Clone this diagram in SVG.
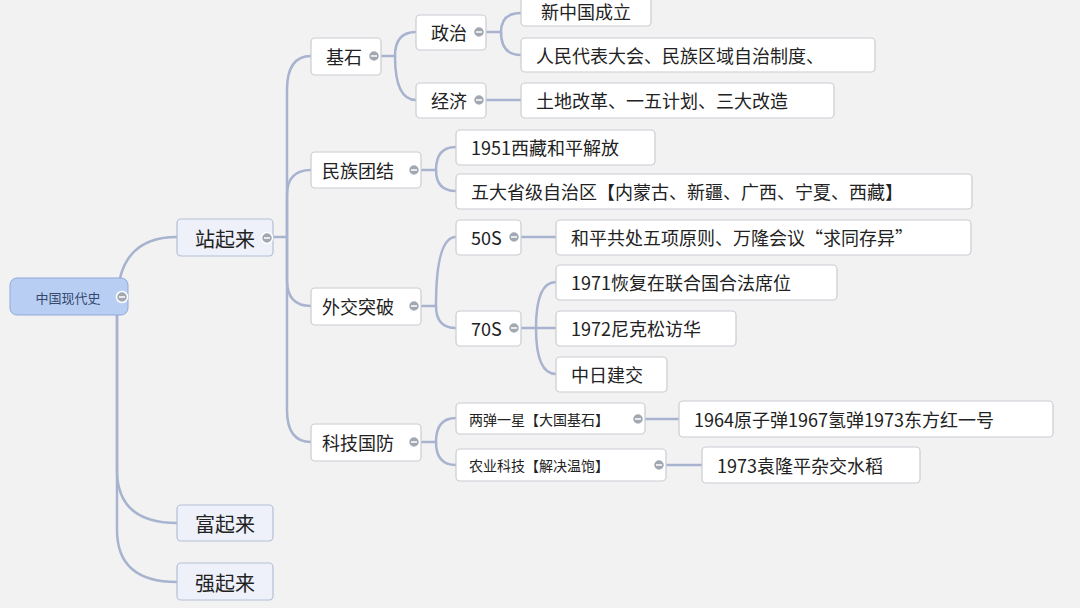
<svg xmlns="http://www.w3.org/2000/svg" width="1080" height="608" viewBox="0 0 1080 608">
<style>
.b{fill:#fff;stroke:#c9ccd2;stroke-width:1.2}
.s{fill:#eef1fa;stroke:#b4bfd6;stroke-width:1.2}
.t{font-family:"Noto Sans CJK SC","Liberation Sans",sans-serif;fill:#222;dominant-baseline:central}
.c path{fill:none;stroke:#a8b3cf;stroke-width:2.5}
.m{fill:#a2a8b2;stroke:#fff;stroke-width:1.5}
.k{stroke:#fff;stroke-width:1.5}
</style>
<defs><g id="mk"><circle r="5.5" class="m"/><line x1="-3" x2="3" class="k"/></g></defs>
<rect width="1080" height="608" fill="#f2f2f2"/>
<g class="c">
<path d="M120 278 Q130 237 177 237"/>
<path d="M117 315 L117 470 Q117 523 177 523"/>
<path d="M117 315 L117 530 Q117 582 177 582"/>
<path d="M273 237 H287"/>
<path d="M287 237 L287 90 Q287 56 311 56"/>
<path d="M287 237 L287 195 Q287 170 311 170"/>
<path d="M287 237 L287 280 Q287 306 311 306"/>
<path d="M287 237 L287 410 Q287 442 311 442"/>
<path d="M381 56 H395 Q395 32 416 32"/>
<path d="M395 56 Q395 100 416 100"/>
<path d="M486 32 H501 Q501 13 521 13"/>
<path d="M501 32 Q501 55 521 55"/>
<path d="M486 100 H521"/>
<path d="M421 170 H436 Q436 147 456 147"/>
<path d="M436 170 Q436 191 456 191"/>
<path d="M421 306 H436 Q436 237 456 237"/>
<path d="M436 306 Q436 328 456 328"/>
<path d="M521 237 H556"/>
<path d="M521 328 H536 Q536 282 556 282"/>
<path d="M536 328 H556"/>
<path d="M536 328 Q536 374 556 374"/>
<path d="M421 442 H436 Q436 418 456 418"/>
<path d="M436 442 Q436 465 456 465"/>
<path d="M645 419 H679"/>
<path d="M666 465 H702"/>
</g>
<g id="root"><rect x="10" y="278" width="118" height="37" rx="7" fill="#b8cff3" stroke="#8fa9d6"/><text x="68" y="297" class="t" font-size="13" text-anchor="middle" fill="#35486e" style="fill:#35486e">中国现代史</text><use href="#mk" x="122" y="297"/></g>
<g id="n1"><rect x="177" y="219" width="96" height="37" rx="4" class="s"/><text x="225" y="238" class="t" font-size="20" text-anchor="middle">站起来</text><use href="#mk" x="267" y="238"/></g>
<g id="n2"><rect x="177" y="505" width="96" height="36" rx="4" class="s"/><text x="225" y="523" class="t" font-size="20" text-anchor="middle">富起来</text></g>
<g id="n3"><rect x="177" y="563" width="96" height="37" rx="4" class="s"/><text x="225" y="582" class="t" font-size="20" text-anchor="middle">强起来</text></g>
<g id="jishi"><rect x="311" y="38" width="70" height="37" rx="4" class="b"/><text x="344" y="56" class="t" font-size="18" text-anchor="middle">基石</text><use href="#mk" x="374" y="56"/></g>
<g id="mzjt"><rect x="311" y="152" width="110" height="36" rx="4" class="b"/><text x="358" y="170" class="t" font-size="18" text-anchor="middle">民族团结</text><use href="#mk" x="414" y="170"/></g>
<g id="wjtp"><rect x="311" y="288" width="110" height="37" rx="4" class="b"/><text x="358" y="306" class="t" font-size="18" text-anchor="middle">外交突破</text><use href="#mk" x="414" y="306"/></g>
<g id="kjgf"><rect x="311" y="424" width="110" height="37" rx="4" class="b"/><text x="358" y="442" class="t" font-size="18" text-anchor="middle">科技国防</text><use href="#mk" x="414" y="442"/></g>
<g id="zz"><rect x="416" y="15" width="70" height="35" rx="4" class="b"/><text x="449" y="32" class="t" font-size="18" text-anchor="middle">政治</text><use href="#mk" x="479" y="32"/></g>
<g id="jj"><rect x="416" y="83" width="70" height="35" rx="4" class="b"/><text x="449" y="100" class="t" font-size="18" text-anchor="middle">经济</text><use href="#mk" x="479" y="100"/></g>
<g id="a1"><rect x="521" y="-4" width="130" height="30" rx="4" class="b"/><text x="586" y="11" class="t" font-size="18" text-anchor="middle">新中国成立</text></g>
<g id="a2"><rect x="521" y="38" width="354" height="34" rx="4" class="b"/><text x="536" y="55" class="t" font-size="18">人民代表大会、民族区域自治制度、</text></g>
<g id="a3"><rect x="521" y="83" width="313" height="35" rx="4" class="b"/><text x="536" y="100" class="t" font-size="18">土地改革、一五计划、三大改造</text></g>
<g id="b1"><rect x="456" y="130" width="199" height="35" rx="4" class="b"/><text x="471" y="147" class="t" font-size="18">1951西藏和平解放</text></g>
<g id="b2"><rect x="456" y="174" width="516" height="35" rx="4" class="b"/><text x="471" y="191" class="t" font-size="18">五大省级自治区【内蒙古、新疆、广西、宁夏、西藏】</text></g>
<g id="c50"><rect x="456" y="220" width="65" height="35" rx="4" class="b"/><text x="471" y="237" class="t" font-size="18">50S</text><use href="#mk" x="514" y="237"/></g>
<g id="c70"><rect x="456" y="311" width="65" height="35" rx="4" class="b"/><text x="471" y="328" class="t" font-size="18">70S</text><use href="#mk" x="514" y="328"/></g>
<g id="d1"><rect x="556" y="220" width="415" height="35" rx="4" class="b"/><text x="571" y="237" class="t" font-size="18">和平共处五项原则、万隆会议“求同存异”</text></g>
<g id="d2"><rect x="556" y="265" width="281" height="35" rx="4" class="b"/><text x="571" y="282" class="t" font-size="18">1971恢复在联合国合法席位</text></g>
<g id="d3"><rect x="556" y="311" width="180" height="35" rx="4" class="b"/><text x="571" y="328" class="t" font-size="18">1972尼克松访华</text></g>
<g id="d4"><rect x="556" y="357" width="111" height="35" rx="4" class="b"/><text x="571" y="374" class="t" font-size="18">中日建交</text></g>
<g id="e1"><rect x="456" y="403" width="189" height="31" rx="4" class="b"/><text x="469" y="419" class="t" font-size="14">两弹一星【大国基石】</text><use href="#mk" x="638" y="419"/></g>
<g id="e2"><rect x="456" y="449" width="210" height="32" rx="4" class="b"/><text x="469" y="465" class="t" font-size="14">农业科技【解决温饱】</text><use href="#mk" x="659" y="465"/></g>
<g id="f1"><rect x="679" y="401" width="374" height="36" rx="4" class="b"/><text x="694" y="419" class="t" font-size="18">1964原子弹1967氢弹1973东方红一号</text></g>
<g id="f2"><rect x="702" y="447" width="218" height="36" rx="4" class="b"/><text x="717" y="465" class="t" font-size="18">1973袁隆平杂交水稻</text></g>
</svg>
